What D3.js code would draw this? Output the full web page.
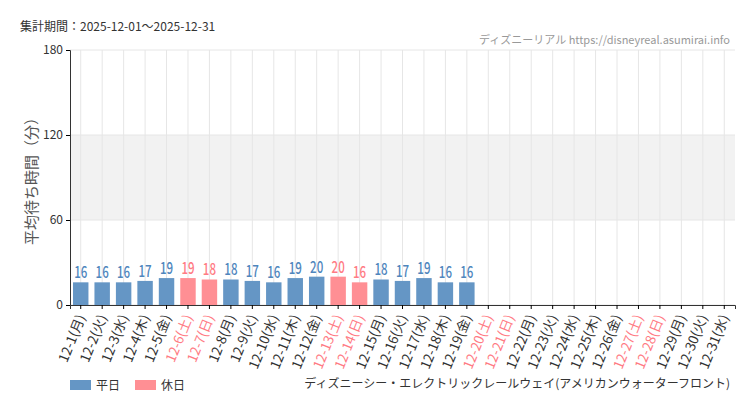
<!DOCTYPE html><html><head><meta charset="utf-8"><script src="https://cdn.jsdelivr.net/npm/d3@7"></script>
<style>body{margin:0;background:#fff}text{font-family:"Noto Sans CJK JP",sans-serif}</style></head><body><svg id="c" width="750" height="410"></svg><script>
const dates=["12-1","12-2","12-3","12-4","12-5","12-6","12-7","12-8","12-9","12-10","12-11","12-12","12-13","12-14","12-15","12-16","12-17","12-18","12-19","12-20","12-21","12-22","12-23","12-24","12-25","12-26","12-27","12-28","12-29","12-30","12-31"];
const days=["月","火","水","木","金","土","日","月","火","水","木","金","土","日","月","火","水","木","金","土","日","月","火","水","木","金","土","日","月","火","水"];
const holiday=[0,0,0,0,0,1,1,0,0,0,0,0,1,1,0,0,0,0,0,1,1,0,0,0,0,0,1,1,0,0,0];
const values=[16,16,16,17,19,19,18,18,17,16,19,20,20,16,18,17,19,16,16,null,null,null,null,null,null,null,null,null,null,null,null];
const yTicks=[0,60,120,180];
const svg=d3.select("#c");
const L=70,R=735,T=50,B=305;
const x=d3.scaleBand().domain(dates).range([L,R]).paddingInner(0.28).paddingOuter(0.14);
const y=d3.scaleLinear().domain([0,180]).range([B,T]);
svg.append("rect").attr("x",L).attr("y",y(120)).attr("width",R-L).attr("height",y(60)-y(120)).attr("fill","#f2f2f2");
dates.forEach(d=>svg.append("line").attr("x1",x(d)+x.bandwidth()/2).attr("x2",x(d)+x.bandwidth()/2).attr("y1",T).attr("y2",B).attr("stroke","#e6e6e6"));
yTicks.forEach(t=>svg.append("line").attr("x1",L).attr("x2",R).attr("y1",y(t)).attr("y2",y(t)).attr("stroke","#e6e6e6"));
const ya=svg.append("g").attr("transform",`translate(${L},0)`).call(d3.axisLeft(y).tickValues(yTicks).tickSize(4));
ya.selectAll("text").attr("font-size",12).attr("fill","#333").attr("font-family","Roboto");
ya.select(".domain").attr("stroke","#333");
const xa=svg.append("g").attr("transform",`translate(0,${B})`).call(d3.axisBottom(x).tickSize(4).tickFormat(""));
xa.select(".domain").attr("stroke","#333");
dates.forEach((d,i)=>{
 const cx=x(d)+x.bandwidth()/2;
 svg.append("text").attr("transform",`translate(${cx+5},${B+12}) rotate(-68)`).attr("text-anchor","end").attr("font-size",13.5).attr("fill",holiday[i]?"#ff7b84":"#333").text(`${d}(${days[i]})`);
 if(values[i]!=null){
  const c=holiday[i]?"#ff8f94":"#6596c5";
  svg.append("rect").attr("x",x(d)).attr("y",y(values[i])).attr("width",x.bandwidth()).attr("height",B-y(values[i])).attr("fill",c);
  svg.append("text").attr("x",cx).attr("y",y(values[i])-4).attr("text-anchor","middle").attr("font-size",16).attr("font-family","Roboto").attr("font-weight","500").attr("fill",holiday[i]?"#ff7b84":"#4f86bd").attr("transform",`translate(${cx},0) scale(0.72,1) translate(${-cx},0)`).text(values[i]);
 }
});
svg.append("text").attr("transform",`translate(37,${(T+B)/2}) rotate(-90)`).attr("text-anchor","middle").attr("font-size",15).attr("fill","#555").text("平均待ち時間（分）");
svg.append("text").attr("x",20).attr("y",31).attr("font-size",12).attr("fill","#333").text("集計期間：2025-12-01～2025-12-31");
svg.append("text").attr("x",730).attr("y",44).attr("text-anchor","end").attr("font-size",11).attr("fill","#999").text("ディズニーリアル https://disneyreal.asumirai.info");
svg.append("rect").attr("x",70).attr("y",380).attr("width",21).attr("height",10).attr("fill","#6596c5");
svg.append("text").attr("x",96).attr("y",390).attr("font-size",12).attr("fill","#333").text("平日");
svg.append("rect").attr("x",135).attr("y",380).attr("width",21).attr("height",10).attr("fill","#ff8f94");
svg.append("text").attr("x",161).attr("y",390).attr("font-size",12).attr("fill","#333").text("休日");
svg.append("text").attr("x",730).attr("y",388).attr("text-anchor","end").attr("font-size",12).attr("fill","#333").text("ディズニーシー・エレクトリックレールウェイ(アメリカンウォーターフロント)");
</script></body></html>
